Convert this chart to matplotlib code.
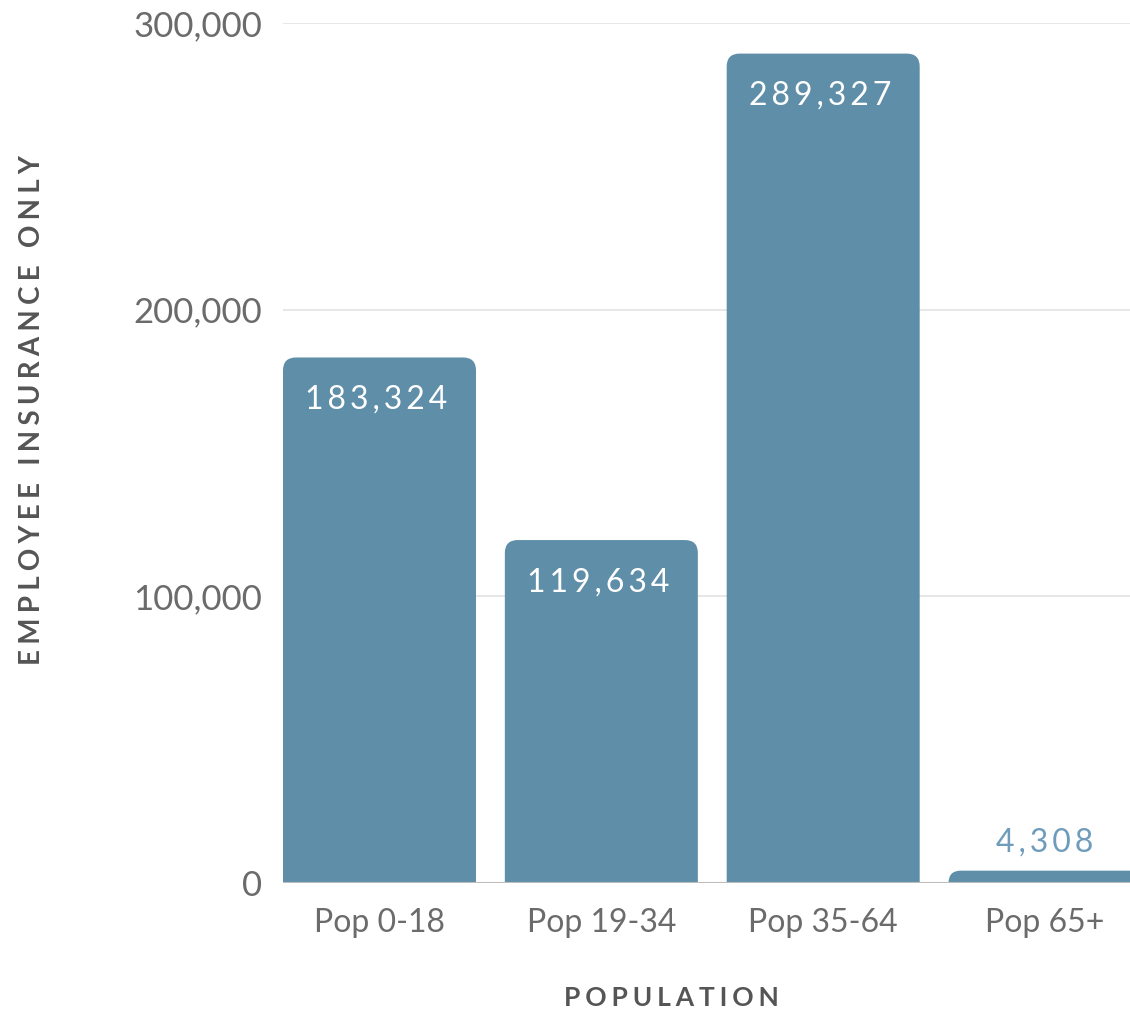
import matplotlib
matplotlib.use("Agg")
import matplotlib.pyplot as plt
from matplotlib.path import Path
from matplotlib.patches import PathPatch
from matplotlib.ticker import FuncFormatter

categories = ["Pop 0-18", "Pop 19-34", "Pop 35-64", "Pop 65+"]
values = [183324, 119634, 289327, 4308]
y_ticks = [0, 100000, 200000, 300000]

BAR_COLOR = "#5f8ea9"
TEXT_GRAY = "#6b6b6b"
FONT = ["Lato", "DejaVu Sans"]

W, H = 1130, 1011
fig = plt.figure(figsize=(W / 100, H / 100), dpi=100)
ax = fig.add_axes([283 / W, (H - 883) / H, 1 - 283 / W, (883 - 23) / H])

bar_w = 0.87
ax.set_xlim(-bar_w / 2, 3.383)
ax.set_ylim(0, 300000)

# pixel -> data scale for rounded corners
ax_w_px = ax.get_position().width * W
ax_h_px = ax.get_position().height * H
x0, x1 = ax.get_xlim()
y0, y1 = ax.get_ylim()
px_x = (x1 - x0) / ax_w_px
px_y = (y1 - y0) / ax_h_px
r_px = 13


def rounded_top_bar(xc, h):
    left, right = xc - bar_w / 2, xc + bar_w / 2
    rp = min(r_px, h / px_y)
    rx, ry = rp * px_x, rp * px_y
    verts = [
        (left, 0), (left, h - ry), (left, h), (left + rx, h),
        (right - rx, h), (right, h), (right, h - ry), (right, 0), (left, 0),
    ]
    codes = [Path.MOVETO, Path.LINETO, Path.CURVE3, Path.CURVE3,
             Path.LINETO, Path.CURVE3, Path.CURVE3, Path.LINETO, Path.CLOSEPOLY]
    return PathPatch(Path(verts, codes), facecolor=BAR_COLOR, edgecolor="none", zorder=3)


def spaced(s, sep="\u2009"):
    return sep.join(s)


for i, v in enumerate(values):
    ax.add_patch(rounded_top_bar(i, v))
    label = spaced(f"{v:,}")
    if v > 20000:
        ax.annotate(label, (i, v), xytext=(-3, -42), textcoords="offset pixels",
                    ha="center", va="center", color="white", fontsize=23,
                    family=FONT, zorder=4)
    else:
        ax.annotate(label, (i, v), xytext=(0, 28), textcoords="offset pixels",
                    ha="center", va="center", color="#6f9cbb", fontsize=23,
                    family=FONT, zorder=4)

ax.set_yticks(y_ticks)
ax.yaxis.set_major_formatter(FuncFormatter(lambda v, p: f"{int(v):,}"))
ax.set_xticks(range(len(categories)))
ax.set_xticklabels(categories)

ax.grid(axis="y", color="#e3e3e3", linewidth=1.2, zorder=0)
ax.axhline(0, color="#bdbdbd", linewidth=1.5, zorder=5)
for s in ax.spines.values():
    s.set_visible(False)
ax.tick_params(axis="both", length=0, colors=TEXT_GRAY)
ax.tick_params(axis="y", pad=24)
ax.tick_params(axis="x", pad=18)
for t in ax.get_xticklabels():
    t.set_family(FONT)
    t.set_fontsize(23)
    t.set_color(TEXT_GRAY)
for t in ax.get_yticklabels():
    t.set_family(FONT)
    t.set_fontsize(25)
    t.set_color(TEXT_GRAY)
ax.tick_params(axis="y", pad=15)

fig.text(671 / W, 1 - 998 / H, spaced("POPULATION", "\u2009\u200a"), ha="center",
         va="center", fontsize=19, fontweight="bold", color="#555555", family=FONT)
fig.text(32 / W, 1 - 410 / H, spaced("EMPLOYEE INSURANCE ONLY", "\u2009\u200a"),
         ha="center", va="center", rotation=90, fontsize=20, fontweight="bold",
         color="#555555", family=FONT)

fig.savefig("out.png", dpi=100)
